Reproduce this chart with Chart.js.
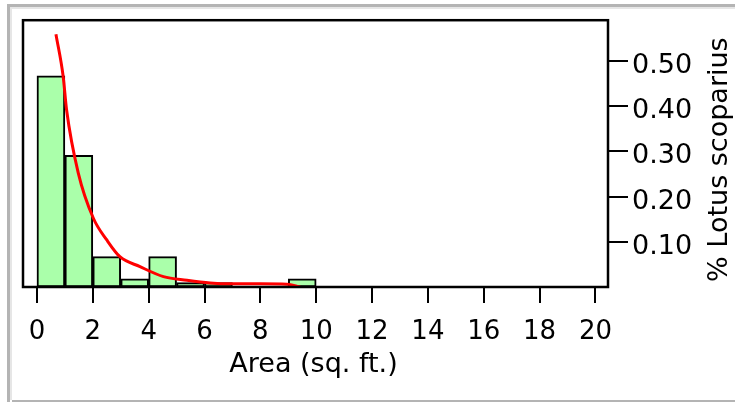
<!DOCTYPE html>
<html>
<head>
<meta charset="utf-8">
<script src="https://cdn.jsdelivr.net/npm/chart.js@4.4.1/dist/chart.umd.min.js"></script>
<style>
  html, body { margin: 0; padding: 0; background: #fff; }
  canvas { display: block; }
</style>
</head>
<body>
<canvas id="histo_canvas" width="735" height="402"></canvas>
<script>
// histogram bins (bin centres, width 1 sq. ft.)
const binCenters = [0.5, 1.5, 2.5, 3.5, 4.5, 5.5, 6.5, 7.5, 8.5, 9.5];
const binShares = [0.467, 0.291, 0.067, 0.018, 0.067, 0.010, 0.010, 0, 0, 0.018];

// fitted density curve
const curveX = [0.68, 0.94, 1.06, 1.48, 2.02, 2.5, 2.97, 3.69, 4.53, 5.37, 6.2, 6.92, 8.0, 8.95, 9.43];
const curveY = [0.559, 0.465, 0.392, 0.252, 0.152, 0.104, 0.067, 0.045, 0.023, 0.015, 0.009, 0.007, 0.007, 0.006, 0.0];

const xTicks = [0, 2, 4, 6, 8, 10, 12, 14, 16, 18, 20];
const yTicks = [0.1, 0.2, 0.3, 0.4, 0.5];

const xTitle = 'Area (sq. ft.)';
const yTitle = '% Lotus scoparius';

const fontFamily = "'DejaVu Sans', Verdana, sans-serif";

// page frame, plot box, x tick labels and the two axis titles
const decorations = {
  id: 'decorations',
  beforeDraw(chart) {
    const c = chart.ctx;
    c.save();
    c.fillStyle = '#fff';
    c.fillRect(0, 0, chart.width, chart.height);
    c.fillStyle = '#b4b4b4';
    c.fillRect(7, 4, chart.width - 7, 3);
    c.fillRect(7, 4, 3, chart.height - 4);
    c.fillRect(12, chart.height - 2, chart.width - 12, 2);
    c.fillStyle = '#e6e6e6';
    c.fillRect(10, 7, chart.width - 10, 2);
    c.fillRect(10, 7, 2, chart.height - 9);
    c.restore();
  },
  afterDatasetsDraw(chart) {
    const a = chart.chartArea;
    const c = chart.ctx;
    c.save();
    c.strokeStyle = '#000';
    c.lineWidth = 2.5;
    c.strokeRect(a.left, a.top, a.right - a.left, a.bottom - a.top);
    c.restore();
  },
  afterDraw(chart) {
    const a = chart.chartArea;
    const xs = chart.scales.x;
    const c = chart.ctx;
    c.save();
    c.fillStyle = '#000';
    c.textAlign = 'center';
    c.textBaseline = 'alphabetic';
    c.font = '26px ' + fontFamily;
    xTicks.forEach(v => c.fillText(String(v), xs.getPixelForValue(v), a.bottom + 52));
    c.font = '27px ' + fontFamily;
    c.fillText(xTitle, (a.left + a.right) / 2 - 2, a.bottom + 85);

    c.translate(a.right + 119, (a.top + a.bottom) / 2 + 6);
    c.rotate(-Math.PI / 2);
    c.fillText(yTitle, 0, 0);
    c.restore();
  }
};

const ctx = document.getElementById('histo_canvas');

new Chart(ctx, {
  type: 'bar',
  data: {
    datasets: [{
      type: 'line',
      data: curveX.map((x, i) => ({ x: x, y: curveY[i] })),
      borderColor: '#ff0000',
      borderWidth: 3,
      pointRadius: 0,
      cubicInterpolationMode: 'monotone',
      order: 1
    }, {
      type: 'bar',
      data: binCenters.map((x, i) => ({ x: x, y: binShares[i] })),
      backgroundColor: '#aaffaa',
      borderColor: '#000',
      borderWidth: 2,
      borderSkipped: false,
      barPercentage: 1,
      categoryPercentage: 1,
      order: 2
    }]
  },
  options: {
    responsive: false,
    animation: false,
    layout: {
      padding: { left: 23, top: 20, right: 0, bottom: 0 }
    },
    plugins: {
      legend: { display: false },
      tooltip: { enabled: false }
    },
    scales: {
      x: {
        type: 'linear',
        position: 'bottom',
        min: -0.5,
        max: 20.45,
        offset: false,
        afterBuildTicks: (scale) => { scale.ticks = xTicks.map(v => ({ value: v })); },
        afterFit: (scale) => { scale.height = 115; },
        border: { display: false },
        grid: {
          offset: false,
          drawOnChartArea: false,
          drawTicks: true,
          tickLength: 16,
          color: '#000',
          lineWidth: 2
        },
        ticks: { display: false }
      },
      y: {
        position: 'right',
        min: 0,
        max: 0.59,
        afterBuildTicks: (scale) => { scale.ticks = yTicks.map(v => ({ value: v })); },
        afterFit: (scale) => { scale.width = 127; },
        border: { display: false },
        grid: {
          drawOnChartArea: false,
          drawTicks: true,
          tickLength: 20,
          color: '#000',
          lineWidth: 2
        },
        ticks: {
          color: '#000',
          padding: 4,
          labelOffset: 5,
          font: { family: fontFamily, size: 27 },
          callback: (v) => Number(v).toFixed(2)
        }
      }
    }
  },
  plugins: [decorations]
});
</script>
</body>
</html>
